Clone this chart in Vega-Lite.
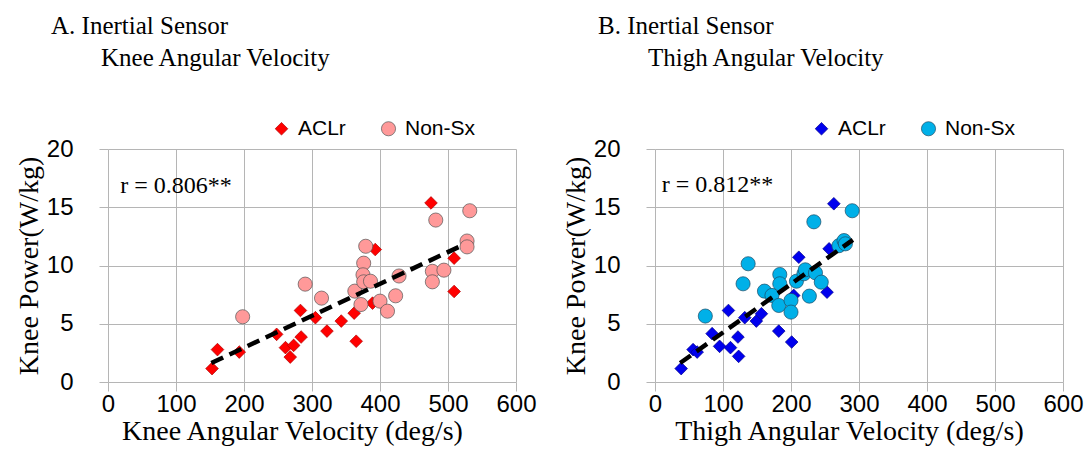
{
  "$schema": "https://vega.github.io/schema/vega-lite/v6.json",
  "background": "white",
  "padding": {"left": 15, "top": 14, "right": 5, "bottom": 5},
  "datasets": {
    "knee": [
      {"v": 153, "p": 1.15, "g": "ACLr"}, {"v": 161, "p": 2.78, "g": "ACLr"}, {"v": 193, "p": 2.57, "g": "ACLr"},
      {"v": 248, "p": 4.09, "g": "ACLr"}, {"v": 261, "p": 2.95, "g": "ACLr"}, {"v": 273, "p": 3.14, "g": "ACLr"},
      {"v": 268, "p": 2.14, "g": "ACLr"}, {"v": 284, "p": 3.86, "g": "ACLr"}, {"v": 283, "p": 6.14, "g": "ACLr"},
      {"v": 305, "p": 5.52, "g": "ACLr"}, {"v": 322, "p": 4.37, "g": "ACLr"}, {"v": 343, "p": 5.23, "g": "ACLr"},
      {"v": 362, "p": 5.91, "g": "ACLr"}, {"v": 365, "p": 3.5, "g": "ACLr"}, {"v": 389, "p": 6.77, "g": "ACLr"},
      {"v": 393, "p": 11.37, "g": "ACLr"}, {"v": 475, "p": 15.37, "g": "ACLr"}, {"v": 509, "p": 10.63, "g": "ACLr"},
      {"v": 509, "p": 7.77, "g": "ACLr"},
      {"v": 198, "p": 5.6, "g": "Non-Sx"}, {"v": 290, "p": 8.4, "g": "Non-Sx"}, {"v": 314, "p": 7.2, "g": "Non-Sx"},
      {"v": 363, "p": 7.8, "g": "Non-Sx"}, {"v": 372, "p": 6.65, "g": "Non-Sx"}, {"v": 376, "p": 10.2, "g": "Non-Sx"},
      {"v": 375, "p": 9.2, "g": "Non-Sx"}, {"v": 376, "p": 8.6, "g": "Non-Sx"}, {"v": 379, "p": 11.65, "g": "Non-Sx"},
      {"v": 386, "p": 8.65, "g": "Non-Sx"}, {"v": 400, "p": 6.94, "g": "Non-Sx"}, {"v": 411, "p": 6.08, "g": "Non-Sx"},
      {"v": 423, "p": 7.4, "g": "Non-Sx"}, {"v": 428, "p": 9.1, "g": "Non-Sx"}, {"v": 477, "p": 9.5, "g": "Non-Sx"},
      {"v": 477, "p": 8.6, "g": "Non-Sx"}, {"v": 494, "p": 9.6, "g": "Non-Sx"}, {"v": 482, "p": 13.9, "g": "Non-Sx"},
      {"v": 532, "p": 14.7, "g": "Non-Sx"}, {"v": 528, "p": 12.1, "g": "Non-Sx"}, {"v": 528, "p": 11.6, "g": "Non-Sx"}
    ],
    "kneeTrend": [{"v": 152, "p": 1.63}, {"v": 523.5, "p": 11.8}],
    "kneeNote": [{"v": 18, "p": 16.2, "t": "r = 0.806**"}],
    "thigh": [
      {"v": 38.5, "p": 1.15, "g": "ACLr"}, {"v": 56, "p": 2.78, "g": "ACLr"}, {"v": 62, "p": 2.57, "g": "ACLr"},
      {"v": 84, "p": 4.15, "g": "ACLr"}, {"v": 95, "p": 3.06, "g": "ACLr"}, {"v": 111, "p": 2.95, "g": "ACLr"},
      {"v": 122, "p": 3.86, "g": "ACLr"}, {"v": 123, "p": 2.2, "g": "ACLr"}, {"v": 108, "p": 6.14, "g": "ACLr"},
      {"v": 132, "p": 5.52, "g": "ACLr"}, {"v": 149, "p": 5.23, "g": "ACLr"}, {"v": 156.5, "p": 5.86, "g": "ACLr"},
      {"v": 182, "p": 4.37, "g": "ACLr"}, {"v": 201, "p": 3.43, "g": "ACLr"}, {"v": 204, "p": 7.43, "g": "ACLr"},
      {"v": 211.5, "p": 10.71, "g": "ACLr"}, {"v": 253, "p": 7.71, "g": "ACLr"}, {"v": 256, "p": 11.43, "g": "ACLr"},
      {"v": 263, "p": 15.3, "g": "ACLr"},
      {"v": 74, "p": 5.66, "g": "Non-Sx"}, {"v": 129.5, "p": 8.43, "g": "Non-Sx"}, {"v": 137, "p": 10.15, "g": "Non-Sx"},
      {"v": 161, "p": 7.8, "g": "Non-Sx"}, {"v": 172, "p": 7.43, "g": "Non-Sx"}, {"v": 182, "p": 6.57, "g": "Non-Sx"},
      {"v": 183.5, "p": 9.23, "g": "Non-Sx"}, {"v": 183.5, "p": 8.43, "g": "Non-Sx"}, {"v": 200, "p": 7.0, "g": "Non-Sx"},
      {"v": 200, "p": 6.0, "g": "Non-Sx"}, {"v": 208, "p": 8.65, "g": "Non-Sx"}, {"v": 219, "p": 9.29, "g": "Non-Sx"},
      {"v": 221, "p": 9.63, "g": "Non-Sx"}, {"v": 227, "p": 7.37, "g": "Non-Sx"}, {"v": 236, "p": 9.37, "g": "Non-Sx"},
      {"v": 244.5, "p": 8.57, "g": "Non-Sx"}, {"v": 233.6, "p": 13.75, "g": "Non-Sx"}, {"v": 270.5, "p": 11.7, "g": "Non-Sx"},
      {"v": 278, "p": 12.14, "g": "Non-Sx"}, {"v": 280, "p": 11.86, "g": "Non-Sx"}, {"v": 290, "p": 14.7, "g": "Non-Sx"}
    ],
    "thighTrend": [{"v": 37, "p": 1.63}, {"v": 291, "p": 12.2}],
    "thighNote": [{"v": 10, "p": 16.3, "t": "r = 0.812**"}]
  },
  "hconcat": [
    {
      "width": 408,
      "height": 233,
      "title": {"text": ["A. Inertial Sensor", "\u200b\u00a0\u00a0\u00a0\u00a0\u00a0\u00a0\u00a0\u00a0Knee Angular Velocity"]},
      "layer": [
        {
          "data": {"name": "knee"},
          "mark": {"type": "point", "filled": true, "opacity": 1, "strokeWidth": 0.7},
          "encoding": {
            "x": {"field": "v", "type": "quantitative", "scale": {"domain": [0, 600], "nice": false}, "axis": {"values": [0, 100, 200, 300, 400, 500, 600], "title": "Knee Angular Velocity (deg/s)", "titleX": 184}},
            "y": {"field": "p", "type": "quantitative", "scale": {"domain": [0, 20], "nice": false}, "axis": {"values": [0, 5, 10, 15, 20], "title": "Knee Power(W/kg)"}},
            "color": {"field": "g", "type": "nominal", "scale": {"domain": ["ACLr", "Non-Sx"], "range": ["#ff0000", "#ff9999"]},
              "legend": {"orient": "none", "legendX": 163, "legendY": -31, "direction": "horizontal", "title": null}},
            "shape": {"field": "g", "type": "nominal", "scale": {"domain": ["ACLr", "Non-Sx"], "range": ["diamond", "circle"]},
              "legend": {"orient": "none", "legendX": 163, "legendY": -31, "direction": "horizontal", "title": null}},
            "size": {"field": "g", "type": "nominal", "scale": {"domain": ["ACLr", "Non-Sx"], "range": [160, 200]}, "legend": null},
            "stroke": {"field": "g", "type": "nominal", "scale": {"domain": ["ACLr", "Non-Sx"], "range": ["#b00000", "#555555"]}, "legend": null}
          }
        },
        {
          "data": {"name": "kneeTrend"},
          "mark": {"type": "line", "color": "black", "strokeWidth": 4.5, "strokeDash": [13, 7]},
          "encoding": {"x": {"field": "v", "type": "quantitative"}, "y": {"field": "p", "type": "quantitative"}}
        },
        {
          "data": {"name": "kneeNote"},
          "mark": {"type": "text", "align": "left", "baseline": "alphabetic", "font": "Liberation Serif", "fontSize": 24, "color": "black"},
          "encoding": {"x": {"field": "v", "type": "quantitative"}, "y": {"field": "p", "type": "quantitative"}, "text": {"field": "t"}}
        }
      ]
    },
    {
      "width": 408,
      "height": 233,
      "title": {"text": ["B. Inertial Sensor", "\u200b\u00a0\u00a0\u00a0\u00a0\u00a0\u00a0\u00a0\u00a0Thigh Angular Velocity"]},
      "layer": [
        {
          "data": {"name": "thigh"},
          "mark": {"type": "point", "filled": true, "opacity": 1, "strokeWidth": 0.7},
          "encoding": {
            "x": {"field": "v", "type": "quantitative", "scale": {"domain": [0, 600], "nice": false}, "axis": {"values": [0, 100, 200, 300, 400, 500, 600], "title": "Thigh Angular Velocity (deg/s)", "titleX": 194}},
            "y": {"field": "p", "type": "quantitative", "scale": {"domain": [0, 20], "nice": false}, "axis": {"values": [0, 5, 10, 15, 20], "title": "Knee Power(W/kg)"}},
            "color": {"field": "g", "type": "nominal", "scale": {"domain": ["ACLr", "Non-Sx"], "range": ["#0000ee", "#00b0e8"]},
              "legend": {"orient": "none", "legendX": 156, "legendY": -31, "direction": "horizontal", "title": null}},
            "shape": {"field": "g", "type": "nominal", "scale": {"domain": ["ACLr", "Non-Sx"], "range": ["diamond", "circle"]},
              "legend": {"orient": "none", "legendX": 156, "legendY": -31, "direction": "horizontal", "title": null}},
            "size": {"field": "g", "type": "nominal", "scale": {"domain": ["ACLr", "Non-Sx"], "range": [160, 200]}, "legend": null},
            "stroke": {"field": "g", "type": "nominal", "scale": {"domain": ["ACLr", "Non-Sx"], "range": ["#00008b", "#1a4a66"]}, "legend": null}
          }
        },
        {
          "data": {"name": "thighTrend"},
          "mark": {"type": "line", "color": "black", "strokeWidth": 4.5, "strokeDash": [13, 7]},
          "encoding": {"x": {"field": "v", "type": "quantitative"}, "y": {"field": "p", "type": "quantitative"}}
        },
        {
          "data": {"name": "thighNote"},
          "mark": {"type": "text", "align": "left", "baseline": "alphabetic", "font": "Liberation Serif", "fontSize": 24, "color": "black"},
          "encoding": {"x": {"field": "v", "type": "quantitative"}, "y": {"field": "p", "type": "quantitative"}, "text": {"field": "t"}}
        }
      ]
    }
  ],
  "resolve": {"scale": {"color": "independent", "shape": "independent", "size": "independent", "stroke": "independent", "x": "independent", "y": "independent"}},
  "bounds": "flush",
  "spacing": 139,
  "config": {
    "view": {"stroke": null},
    "axis": {
      "grid": true, "gridColor": "#b5b5b5", "gridWidth": 1, "gridOpacity": 1,
      "domain": false, "ticks": true, "tickColor": "#b5b5b5", "tickSize": 9,
      "labelFont": "Liberation Sans", "labelFontSize": 24, "labelColor": "black",
      "titleFont": "Liberation Serif", "titleFontSize": 28, "titleFontWeight": "normal", "titleColor": "black"
    },
    "axisX": {"labelPadding": 1, "titlePadding": 1, "labelFlush": false},
    "axisY": {"labelPadding": 26, "titlePadding": 3},
    "title": {"font": "Liberation Serif", "fontSize": 25, "fontWeight": "normal", "color": "black", "anchor": "start", "frame": "group", "dx": -57, "lineHeight": 32, "offset": 47},
    "legend": {"labelFont": "Liberation Sans", "labelFontSize": 21, "labelColor": "black", "symbolSize": 110, "columnPadding": 32, "labelOffset": 6, "padding": 0, "symbolStrokeWidth": 0.7}
  }
}
